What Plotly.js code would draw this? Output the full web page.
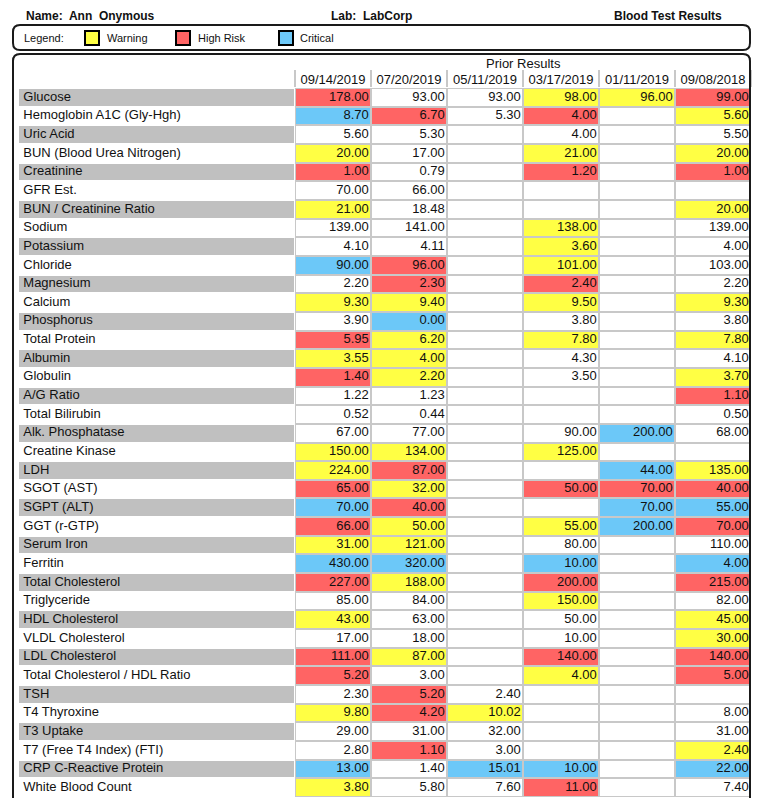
<!DOCTYPE html>
<html><head><meta charset="utf-8">
<script src="https://cdn.plot.ly/plotly-3.0.1.min.js"></script>
<style>html,body{margin:0;padding:0;background:#fff}#chart{width:768px;height:798px}</style>
</head><body><div id="chart"></div>
<script>
// ---------- data ----------
const tests = ["Glucose","Hemoglobin A1C (Gly-Hgh)","Uric Acid","BUN (Blood Urea Nitrogen)","Creatinine","GFR Est.","BUN / Creatinine Ratio","Sodium","Potassium","Chloride","Magnesium","Calcium","Phosphorus","Total Protein","Albumin","Globulin","A/G Ratio","Total Bilirubin","Alk. Phosphatase","Creatine Kinase","LDH","SGOT (AST)","SGPT (ALT)","GGT (r-GTP)","Serum Iron","Ferritin","Total Cholesterol","Triglyceride","HDL Cholesterol","VLDL Cholesterol","LDL Cholesterol","Total Cholesterol / HDL Ratio","TSH","T4 Thyroxine","T3 Uptake","T7 (Free T4 Index) (FTI)","CRP C-Reactive Protein","White Blood Count"];
const dates = ["09/14/2019","07/20/2019","05/11/2019","03/17/2019","01/11/2019","09/08/2018"];

const res20190914 = [178,8.7,5.6,20,1,70,21,139,4.1,90, 2.2,9.3,3.9,5.95,3.55,1.4,1.22,0.52,67,150, 224,65,70,66,31,430,227,85,43,17, 111,5.2,2.3,9.8,29,2.8,13,3.8];
const res20190720 = [93,6.7,5.3,17,0.79,66,18.48,141,4.11,96, 2.3,9.4,0,6.2,4,2.2,1.23,0.44,77,134, 87,32,40,50,121,320,188,84,63,18, 87,3,5.2,4.2,31,1.1,1.4,5.8];
const res20190511 = [93,5.3,null,null,null,null,null,null,null,null, null,null,null,null,null,null,null,null,null,null, null,null,null,null,null,null,null,null,null,null, null,null,2.4,10.02,32,3,15.01,7.6];
const res20190317 = [98,4,4,21,1.2,null,null,138,3.6,101, 2.4,9.5,3.8,7.8,4.3,3.5,null,null,90,125, null,50,null,55,80,10,200,150,50,10, 140,4,null,null,null,null,10,11];
const res20190111 = [96,null,null,null,null,null,null,null,null,null, null,null,null,null,null,null,null,null,200,null, 44,70,70,200,null,null,null,null,null,null, null,null,null,null,null,null,null,null];
const res20180908 = [99,5.6,5.5,20,1,null,20,139,4,103, 2.2,9.3,3.8,7.8,4.1,3.7,1.1,0.5,68,null, 135,40,55,70,110,4,215,82,45,30, 140,5,null,8,31,2.4,22,7.4];

// flags: W = Warning, H = High Risk, C = Critical, . = none
const flag20190914 = "HC.WH.W..C" + ".W.HWH...W" + "WHCHWCH.W." + "HH.W..CW";
const flag20190720 = ".H.......H" + "HWCWWW...W" + "HWHWWCW..." + "W.HH.H..";
const flag20190511 = ".........." + ".........." + ".........." + "...W..C.";
const flag20190317 = "WH.WH..WWW" + "HW.W.....W" + ".H.W.CHW.." + "HW....CH";
const flag20190111 = "W........." + "........C." + "CHCC......" + "........";
const flag20180908 = "HW.WH.W..." + ".W.W.WH..." + "WHCH.CH.WW" + "HH...WC.";

const legendNames = ["Warning","High Risk","Critical"];

// ---------- styling ----------
const FONT = "Liberation Sans, Arial, sans-serif";
const C_WHITE = "#ffffff", C_WARN = "#ffff44", C_HIGH = "#ff6464", C_CRIT = "#6cc8f8", C_BAND = "#c0c0c0", C_GRID = "#c8c8c8";
const legendColors = [C_WARN, C_HIGH, C_CRIT];

const valueCols = [res20190914,res20190720,res20190511,res20190317,res20190111,res20180908];
const flagCols = [flag20190914,flag20190720,flag20190511,flag20190317,flag20190111,flag20180908];
const code = {".":0,"W":1,"H":2,"C":3};

const LABEL_W = 277/76;
const xEdges = [-LABEL_W,0,1,2,3,4,5,6];
const rows = tests.map((t,i)=>i);
const z = tests.map((t,i)=>[i%2===0?4:0].concat(flagCols.map(f=>code[f[i]])));

const colorscale = [[0,C_WHITE],[0.125,C_WHITE],[0.125,C_WARN],[0.375,C_WARN],[0.375,C_HIGH],[0.625,C_HIGH],[0.625,C_CRIT],[0.875,C_CRIT],[0.875,C_BAND],[1,C_BAND]];

const vx=[],vy=[],vt=[];
valueCols.forEach((col,k)=>col.forEach((v,i)=>{ if(v!==null){ vx.push(k+1-0.03); vy.push(i); vt.push(v.toFixed(2)); } }));

const traces = [
  {type:"heatmap", x:xEdges, y:rows, z:z, zmin:0, zmax:4, colorscale:colorscale, showscale:false, xgap:2, ygap:2, hoverinfo:"skip"},
  {type:"scatter", mode:"text", x:vx, y:vy, text:vt, textposition:"middle left", textfont:{family:FONT,size:13,color:"#111"}, hoverinfo:"skip", showlegend:false, cliponaxis:false},
  {type:"scatter", mode:"text", xaxis:"x2", yaxis:"y", x:tests.map(()=>-LABEL_W+0.07), y:rows, text:tests, textposition:"middle right", textfont:{family:FONT,size:13,color:"#111"}, hoverinfo:"skip", showlegend:false, cliponaxis:false}
];

// pixel -> paper helpers for page decoration
const ML=18, MR=17, MT=88, MB=1, W=768, H=798;
const PW=W-ML-MR, PH=H-MT-MB;
const px = p => (p-ML)/PW;
const py = p => (H-MB-p)/PH;
function roundRect(x0,y0,x1,y1,r){
  const X=px, Y=py;
  return `M${X(x0+r)},${Y(y0)} L${X(x1-r)},${Y(y0)} Q${X(x1)},${Y(y0)} ${X(x1)},${Y(y0+r)} L${X(x1)},${Y(y1-r)} Q${X(x1)},${Y(y1)} ${X(x1-r)},${Y(y1)} L${X(x0+r)},${Y(y1)} Q${X(x0)},${Y(y1)} ${X(x0)},${Y(y1-r)} L${X(x0)},${Y(y0+r)} Q${X(x0)},${Y(y0)} ${X(x0+r)},${Y(y0)} Z`;
}

const shapes = [
  {type:"rect", xref:"x", yref:"paper", x0:-LABEL_W-0.05, x1:0, y0:0, y1:1, fillcolor:"#ffffff", line:{width:0}, layer:"below"},
  {type:"path", xref:"paper", yref:"paper", path:roundRect(13,25,750,50,7), line:{color:"#1a1a1a",width:2}},
  {type:"path", xref:"paper", yref:"paper", path:roundRect(13,54,750,830,7), line:{color:"#1a1a1a",width:2}}
];
const swatchX = [84,175,278], labelX = [105,196,298];
const annotations = [
  {xref:"paper",yref:"paper",x:px(24),y:py(15.5),xanchor:"left",yanchor:"middle",showarrow:false,text:"Name:\u00a0 Ann\u00a0 Onymous",font:{family:FONT,size:12,color:"#111",weight:"bold"}},
  {xref:"paper",yref:"paper",x:px(329),y:py(15.5),xanchor:"left",yanchor:"middle",showarrow:false,text:"Lab:\u00a0 LabCorp",font:{family:FONT,size:12,color:"#111",weight:"bold"}},
  {xref:"paper",yref:"paper",x:px(724),y:py(15.5),xanchor:"right",yanchor:"middle",showarrow:false,text:"Blood Test Results",font:{family:FONT,size:12,color:"#111",weight:"bold"}},
  {xref:"paper",yref:"paper",x:px(22),y:py(38),xanchor:"left",yanchor:"middle",showarrow:false,text:"Legend:",font:{family:FONT,size:11,color:"#111"}},
  {xref:"x",yref:"paper",x:3,y:py(63),xanchor:"center",yanchor:"middle",showarrow:false,text:"Prior Results",font:{family:FONT,size:13,color:"#111"}}
];
legendNames.forEach((n,i)=>{
  shapes.push({type:"rect",xref:"paper",yref:"paper",x0:px(swatchX[i]+1),x1:px(swatchX[i]+15),y0:py(45),y1:py(31),fillcolor:legendColors[i],line:{color:"#000",width:2}});
  annotations.push({xref:"paper",yref:"paper",x:px(labelX[i]),y:py(38),xanchor:"left",yanchor:"middle",showarrow:false,text:n,font:{family:FONT,size:11,color:"#111"}});
});

const layout = {
  width:W, height:H, margin:{l:ML,r:MR,t:MT,b:MB,pad:0},
  paper_bgcolor:"#ffffff", plot_bgcolor:C_GRID, showlegend:false,
  font:{family:FONT,color:"#111"},
  xaxis:{range:[-LABEL_W,6], side:"top", tickmode:"array", tickvals:[0.5,1.5,2.5,3.5,4.5,5.5], ticktext:dates, ticks:"", showgrid:false, zeroline:false, showline:false, tickfont:{family:FONT,size:13,color:"#111"}, fixedrange:true},
  xaxis2:{range:[-LABEL_W,6], overlaying:"x", side:"top", tickmode:"array", tickvals:[0,1,2,3,4,5,6], ticks:"outside", ticklen:17, tickwidth:2, tickcolor:C_GRID, showticklabels:false, showgrid:false, zeroline:false, showline:false, fixedrange:true},
  yaxis:{range:[37.5,-0.5], showticklabels:false, ticks:"", showgrid:false, zeroline:false, showline:false, fixedrange:true},
  shapes:shapes, annotations:annotations
};
Plotly.newPlot("chart", traces, layout, {staticPlot:true, displayModeBar:false});
</script></body></html>
